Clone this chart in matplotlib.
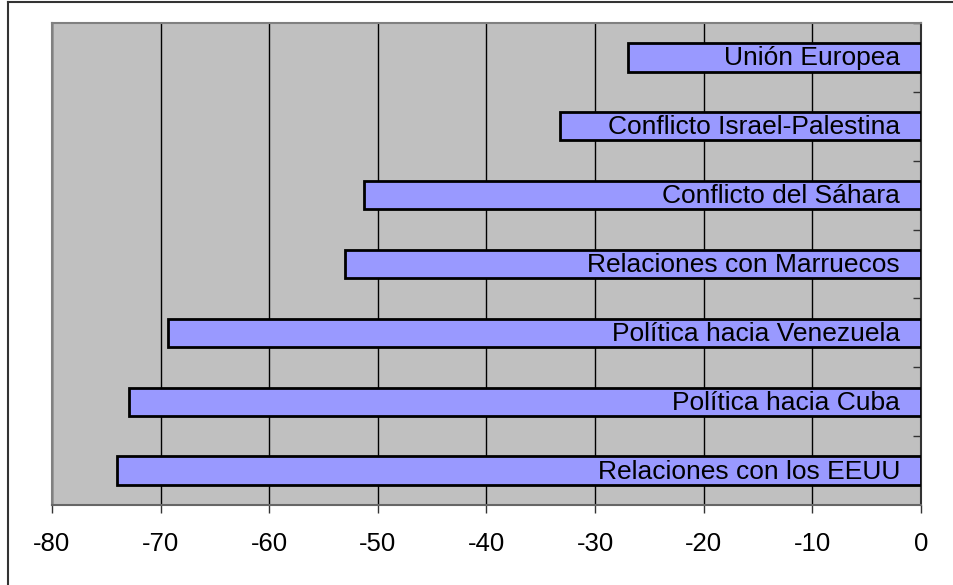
import matplotlib
matplotlib.use("Agg")
import matplotlib.pyplot as plt
from matplotlib.lines import Line2D

# Datos (de abajo hacia arriba)
categorias = [
    "Relaciones con los EEUU",
    "Política hacia Cuba",
    "Política hacia Venezuela",
    "Relaciones con Marruecos",
    "Conflicto del Sáhara",
    "Conflicto Israel-Palestina",
    "Unión Europea",
]
valores = [-74.0, -72.9, -69.3, -53.0, -51.3, -33.2, -27.0]
ticks_x = [-80, -70, -60, -50, -40, -30, -20, -10, 0]

plt.rcParams["font.family"] = ["Liberation Sans", "DejaVu Sans"]

fig = plt.figure(figsize=(9.54, 5.85), dpi=100)
ax = fig.add_axes([52 / 954, 1 - 505 / 585, (921 - 52) / 954, (505 - 23) / 585])
ax.set_facecolor("#C0C0C0")

y = range(len(categorias))
ax.barh(y, valores, height=0.41, color="#9999FF", edgecolor="black", linewidth=2, zorder=3)

for i, nombre in enumerate(categorias):
    ax.annotate(nombre, xy=(0, i), xytext=(-21, -1), textcoords="offset pixels",
                ha="right", va="center", fontsize=19, zorder=4)

ax.set_xlim(-80, 0)
ax.set_ylim(-0.5, len(categorias) - 0.5)
ax.set_xticks(ticks_x)
ax.set_xticklabels([str(t) for t in ticks_x], fontsize=18.5)
ax.tick_params(axis="x", direction="out", length=6, width=1, color="#333333", pad=13.5)
ax.grid(True, axis="x", color="black", linewidth=1, zorder=1)

# eje de categorías a la derecha (en 0), marcas entre categorías hacia dentro
ax.yaxis.tick_right()
ax.set_yticks([i + 0.5 for i in range(len(categorias))])
ax.set_yticklabels([])
ax.tick_params(axis="y", direction="in", length=6, width=1, color="#333333")

for lado in ["left", "top"]:
    ax.spines[lado].set_color("#808080")
    ax.spines[lado].set_linewidth(1.5)
ax.spines["right"].set_color("#333333")
ax.spines["right"].set_linewidth(1.5)
ax.spines["bottom"].set_color("#666666")
ax.spines["bottom"].set_linewidth(1.5)

# marco de la figura (recortado a la derecha y abajo)
fig.add_artist(Line2D([8 / 954, 8 / 954], [0, 1 - 1.5 / 585], transform=fig.transFigure,
                      color="#333333", linewidth=1.5))
fig.add_artist(Line2D([8 / 954, 1], [1 - 1.5 / 585, 1 - 1.5 / 585], transform=fig.transFigure,
                      color="#333333", linewidth=1.5))

fig.savefig("out.png", dpi=100)
